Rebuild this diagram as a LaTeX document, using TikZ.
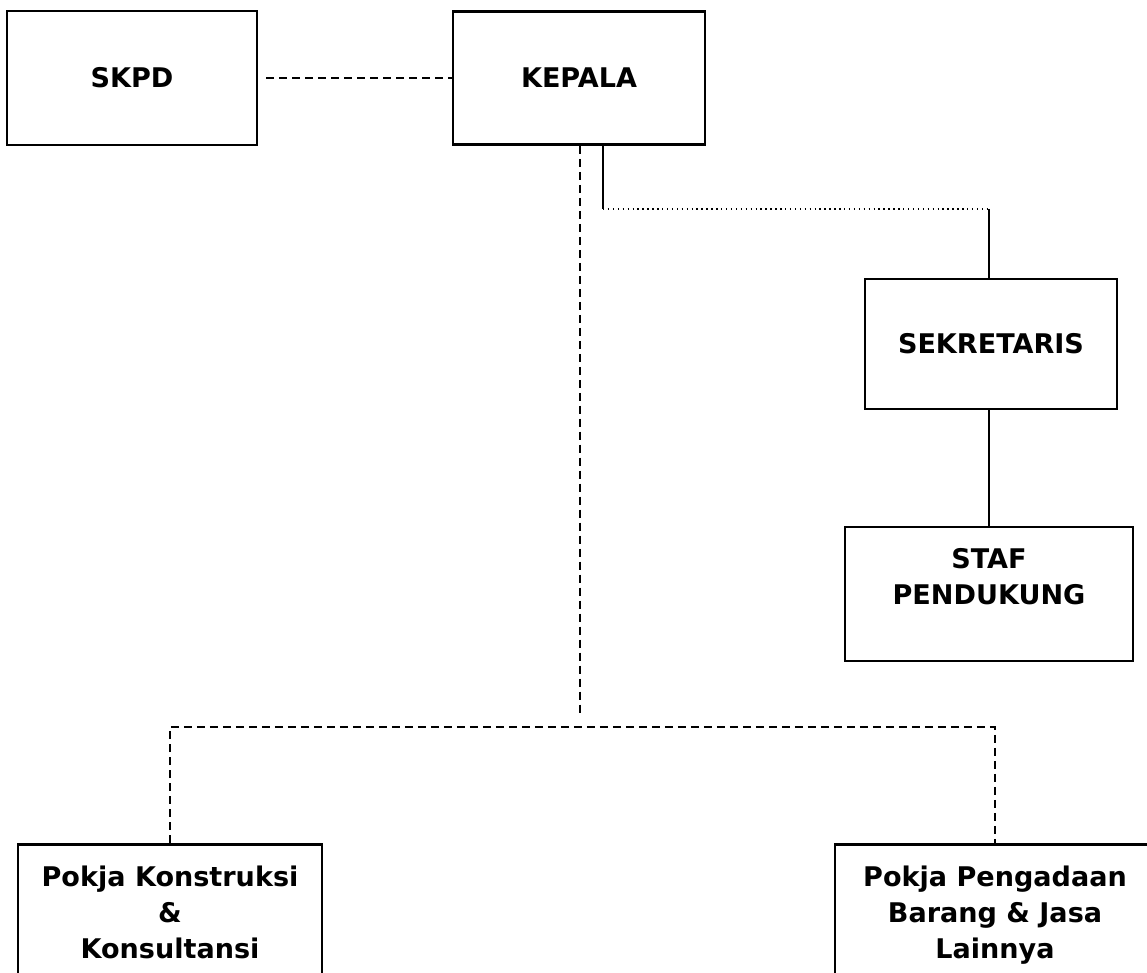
\documentclass[tikz,border=0pt]{standalone}
\usepackage{fontspec}
\setmainfont{DejaVu Sans}
\usetikzlibrary{positioning}

\begin{document}
\begin{tikzpicture}[x = 0.02cm, y = 0.02cm,
    every node/.style = {font = \bfseries\fontsize{15.4}{20.4}\selectfont},
    box/.style = {draw, line width = 1.5pt, inner sep = 0pt},
    lbl/.style = {align = center, inner sep = 0pt},
    dashline/.style = {line width = 1.6pt, dash pattern = on 0.16cm off 0.1cm},
    solidline/.style = {line width = 1.4pt},
    dotline/.style = {line width = 0.8pt, dotted}]
    \useasboundingbox (0,0) rectangle (1147,973);
    \clip (0,0) rectangle (1147,973);
        % top row
        \node[box, minimum width = 5cm, minimum height = 2.68cm] (skpd) at (132,895) {SKPD};
        \node[box, minimum width = 5.04cm, minimum height = 2.66cm] (kepala) at (579,895) {KEPALA};
        % right branch
        \node[box, minimum width = 5.04cm, minimum height = 2.6cm] (sek) at (991,629) {SEKRETARIS};
        \node[box, minimum width = 5.76cm, minimum height = 2.68cm] (staf) at (989,379) {};
        \node[lbl, below = 0.45cm of staf.north] (staftxt) {STAF\\PENDUKUNG};
        % bottom row
        \node[box, anchor = north, minimum width = 6.08cm, minimum height = 4cm] (pokjak) at (170,130) {};
        \node[lbl, below = 0.45cm of pokjak.north] (pokjaktxt) {Pokja Konstruksi\\\&\\Konsultansi};
        \node[box, anchor = north, minimum width = 6.4cm, minimum height = 4cm] (pokjab) at (995,130) {};
        \node[lbl, below = 0.45cm of pokjab.north] (pokjabtxt) {Pokja Pengadaan\\Barang \& Jasa\\Lainnya};
        \coordinate (split) at (580,246);
        \coordinate (kbend) at (603,764);

        \draw[dashline, shorten <= 0.16cm] (skpd) -- (kepala);
        \draw[dashline, shorten >= 0.24cm] (kepala.south -| split) -- (split);
        \draw[dashline] (pokjak.north) |- (split) -| (pokjab.north);
        \draw[solidline] (kepala.south -| kbend) -- (kbend);
        \draw[dotline] (kbend) -- (kbend -| staf.north);
        \draw[solidline] (kbend -| staf.north) -- (sek.north -| staf.north);
        \draw[solidline] (sek.south -| staf.north) -- (staf.north);
\end{tikzpicture}
\end{document}
